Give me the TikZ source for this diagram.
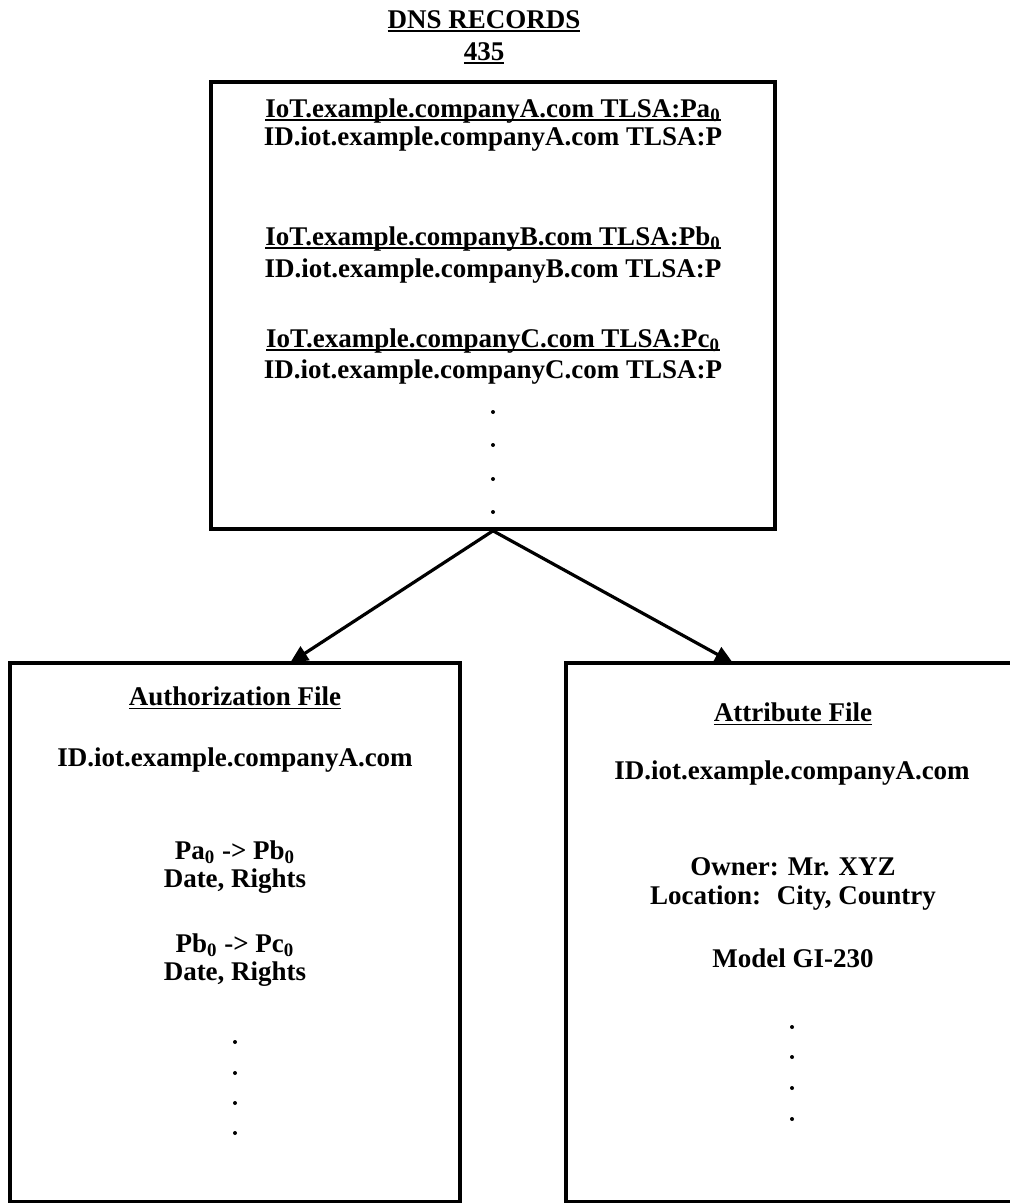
\documentclass[tikz,border=0pt]{standalone}
\usepackage{fontspec}
\setmainfont{Liberation Serif}
\usetikzlibrary{arrows.meta}

% underline that sits close under the baseline
\newcommand{\ulin}[1]{\setbox0\hbox{#1}\rlap{\rule[-1.8pt]{\wd0}{0.8pt}}\box0}

\tikzset{
  filebox/.style={draw, line width=1.8pt, rectangle, inner sep=0pt},
  rec/.style={font=\fontsize{13.5}{16}\selectfont\bfseries, inner sep=0pt},
  link/.style={line width=1.6pt, -{Triangle[length=9pt,width=8pt]}},
}

\begin{document}
\begin{tikzpicture}[x=0.5pt, y=-0.5pt]
    \useasboundingbox (0,0) rectangle (1009,1203);

    % Title
    \node[rec] (title) at (484,21) {\ulin{DNS RECORDS}};
    \node[rec] (num) at (484,53) {\ulin{435}};

    % Boxes
    \node[filebox, minimum width=282pt, minimum height=223.5pt] (dns) at (493,305.5) {};
    \node[filebox, minimum width=225pt, minimum height=269.5pt] (auth) at (235,932.5) {};
    \node[filebox, minimum width=226pt, minimum height=269.5pt] (attr) at (792,932.5) {};

    % DNS records
    \node[rec] (recA) at (493,111) {\ulin{IoT.example.companyA.com TLSA:Pa\textsubscript{0}}};
    \node[rec] (idA) at (493,139) {ID.iot.example.companyA.com TLSA:P};
    \node[rec] (recB) at (493,239) {\ulin{IoT.example.companyB.com TLSA:Pb\textsubscript{0}}};
    \node[rec] (idB) at (493,271) {ID.iot.example.companyB.com TLSA:P};
    \node[rec] (recC) at (493,341) {\ulin{IoT.example.companyC.com TLSA:Pc\textsubscript{0}}};
    \node[rec] (idC) at (493,372) {ID.iot.example.companyC.com TLSA:P};
    \foreach \y in {412,445,479,512}
        \fill (493,\y) circle (1pt);

    % Authorization file
    \node[rec] (authT) at (235,698) {\ulin{Authorization File}};
    \node[rec] (authId) at (235,760) {ID.iot.example.companyA.com};
    \node[rec] (hopA) at (235,852) {Pa\textsubscript{0} -> Pb\textsubscript{0}};
    \node[rec] (dateA) at (235,881) {Date, Rights};
    \node[rec] (hopB) at (235,945) {Pb\textsubscript{0} -> Pc\textsubscript{0}};
    \node[rec] (dateB) at (235,974) {Date, Rights};
    \foreach \y in {1042,1073,1103,1133}
        \fill (235,\y) circle (1pt);

    % Attribute file
    \node[rec] (attrT) at (793,714) {\ulin{Attribute File}};
    \node[rec] (attrId) at (792,773) {ID.iot.example.companyA.com};
    \node[rec] (owner) at (793,867) {Owner: Mr. XYZ};
    \node[rec] (loc) at (793,898) {Location:~ City, Country};
    \node[rec] (model) at (793,958) {Model GI-230};
    \foreach \y in {1027,1057,1088,1119}
        \fill (792,\y) circle (1pt);

    % Arrows
    \coordinate (tipA) at (290,663);
    \coordinate (tipB) at (733,663);
    \draw[link] (dns.south) -- (tipA);
    \draw[link] (dns.south) -- (tipB);

\end{tikzpicture}
\end{document}
